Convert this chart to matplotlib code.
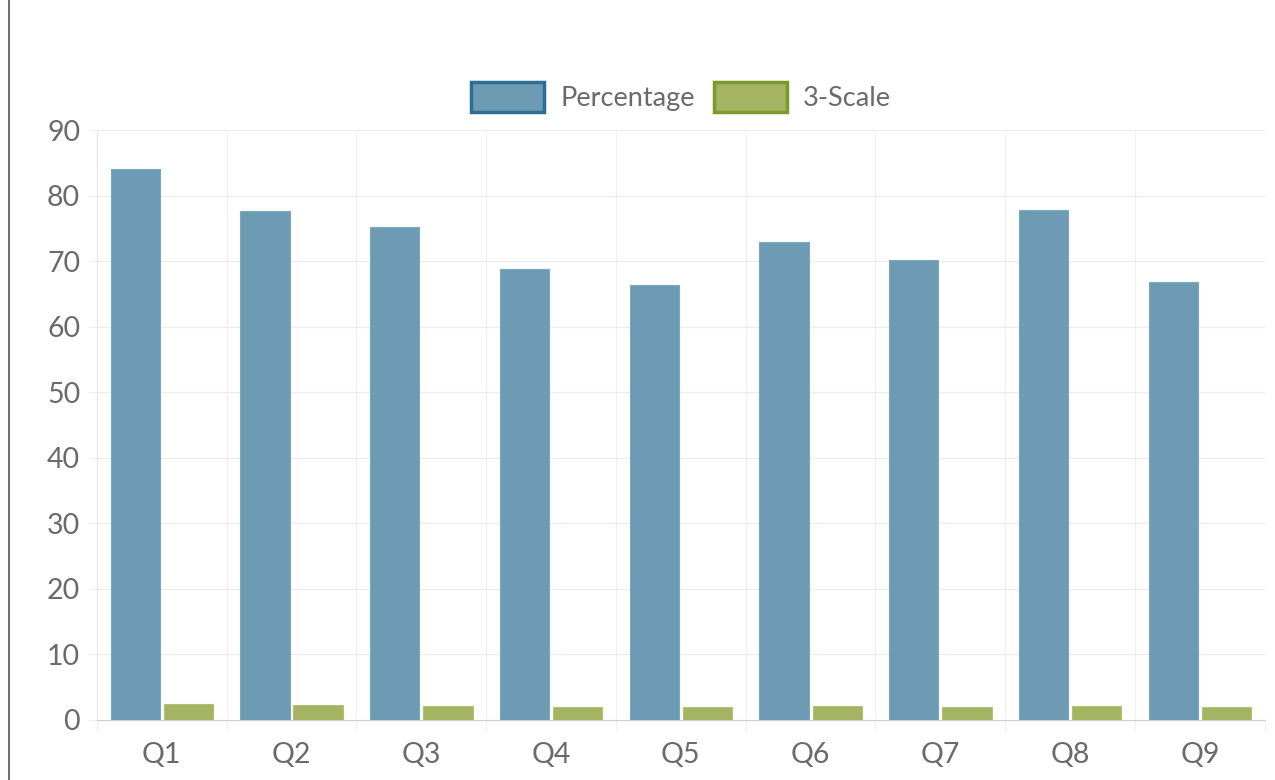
import numpy as np
import matplotlib
matplotlib.use("Agg")
from matplotlib import pyplot as plt

questions = ["Q1", "Q2", "Q3", "Q4", "Q5", "Q6", "Q7", "Q8", "Q9"]
percentage = [84.1, 77.7, 75.2, 68.9, 66.4, 72.9, 70.2, 77.8, 66.8]
three_scale = [2.5, 2.3, 2.2, 2.0, 1.9, 2.2, 2.0, 2.2, 1.9]
y_ticks = [0, 10, 20, 30, 40, 50, 60, 70, 80, 90]

plt.rcParams['font.family'] = ['Lato', 'DejaVu Sans']

fig = plt.figure(figsize=(12.75, 7.8), dpi=100)
ax = fig.add_axes([0.076, 0.077, 0.916, 0.756])

x = np.arange(len(questions))
w = 0.38
ax.bar(x - w / 2 - 0.015, percentage, w, color="#6c9bb3", edgecolor="#7ba8be",
       linewidth=0.8, label="Percentage", zorder=3)
ax.bar(x + w / 2 + 0.015, three_scale, w, color="#a4b462", edgecolor="#b3c270",
       linewidth=0.8, label="3-Scale", zorder=3)

ax.set_xlim(-0.5, len(questions) - 0.5)
ax.set_ylim(0, 90)
ax.set_yticks(y_ticks)
ax.set_xticks(x)
ax.set_xticklabels(questions)
ax.set_xticks(np.arange(-0.5, len(questions), 1), minor=True)

ax.grid(axis="y", color="#ececec", linewidth=0.8, zorder=0)
ax.grid(axis="x", which="minor", color="#f0f0f0", linewidth=0.8, zorder=0)
ax.tick_params(axis="x", which="major", length=0, pad=16, labelsize=20.5, labelcolor="#6a6a6a")
ax.tick_params(axis="x", which="minor", length=8, color="#eeeeee")
ax.tick_params(axis="y", length=6, color="#eeeeee", pad=6, labelsize=20.5, labelcolor="#6a6a6a")

for s in ["top", "right"]:
    ax.spines[s].set_visible(False)
ax.spines["left"].set_color("#e6e6e6")
ax.spines["bottom"].set_color("#d8c8c0")

leg = ax.legend(loc="lower center", bbox_to_anchor=(0.5, 0.99), ncol=2, frameon=False,
                fontsize=19.5, handlelength=2.7, handleheight=1.3, handletextpad=0.6,
                columnspacing=0.7, labelcolor="#6a6a6a")
for patch, ec in zip(leg.get_patches(), ["#2f6e94", "#7d9a2c"]):
    patch.set_edgecolor(ec)
    patch.set_linewidth(2.5)

# scanned page edge on the left
fig.add_artist(plt.Line2D([0.007, 0.007], [0.0, 1.0], color="#555555", linewidth=1.2))

fig.savefig("out.png", dpi=100)
